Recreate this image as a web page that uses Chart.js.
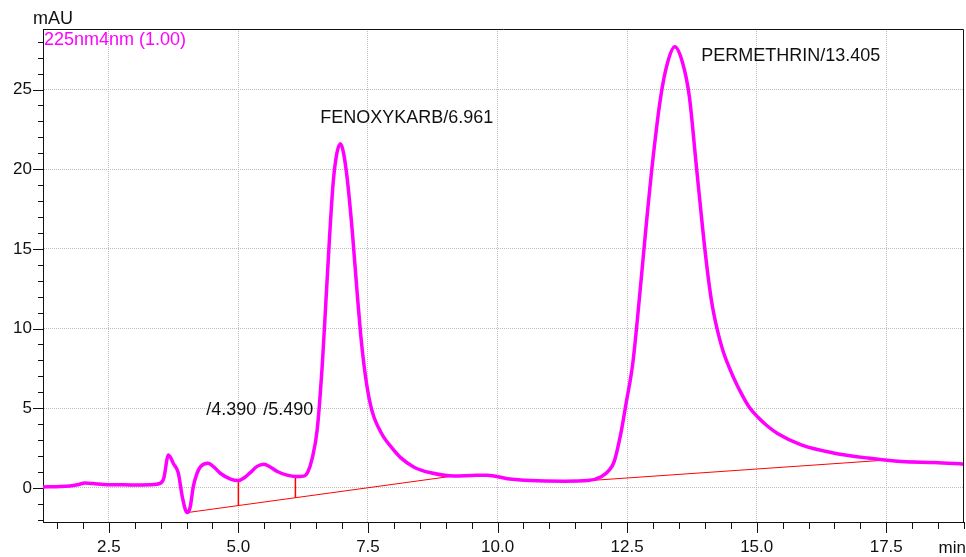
<!DOCTYPE html>
<html>
<head>
<meta charset="utf-8">
<script src="https://cdn.jsdelivr.net/npm/chart.js@4/dist/chart.umd.min.js"></script>
<style>
    body { margin: 0; background: #fff; }
    #wrap { width: 966px; height: 557px; position: relative; }
</style>
</head>
<body>
<div id="wrap"><canvas id="chromatogram"></canvas></div>
<script>
// retention time (min) and detector signal (mAU)
var retentionTime = [
    1.23, 1.50, 1.75, 1.90, 2.04, 2.20, 2.40, 2.70, 3.00, 3.30,
    3.50, 3.56, 3.65, 3.75, 3.84, 3.92, 4.01, 4.07, 4.13, 4.20,
    4.27, 4.41, 4.53, 4.65, 4.85, 5.00, 5.12, 5.23, 5.36, 5.49,
    5.62, 5.75, 5.94, 6.10, 6.26, 6.34, 6.42, 6.52, 6.62, 6.69,
    6.76, 6.83, 6.90, 6.97, 7.03, 7.10, 7.20, 7.29, 7.36, 7.42,
    7.48, 7.55, 7.62, 7.70, 7.80, 7.94, 8.13, 8.39, 8.71, 9.16,
    9.50, 9.80, 10.19, 10.64, 11.29, 11.74, 12.00, 12.15, 12.25, 12.38,
    12.48, 12.61, 12.74, 12.86, 12.99, 13.15, 13.28, 13.42, 13.57, 13.70,
    13.83, 13.96, 14.05, 14.13, 14.20, 14.28, 14.36, 14.44, 14.55, 14.70,
    14.85, 15.02, 15.20, 15.41, 15.86, 16.50, 17.15, 17.79, 18.43, 19.00
];
var signal = [
    0.06, 0.08, 0.12, 0.20, 0.30, 0.27, 0.22, 0.20, 0.18, 0.20,
    0.30, 0.60, 2.07, 1.50, 0.94, -0.60, -1.55, -1.20, 0.08, 0.90,
    1.34, 1.55, 1.30, 0.92, 0.55, 0.46, 0.65, 0.96, 1.35, 1.49,
    1.30, 1.03, 0.80, 0.71, 0.74, 1.00, 1.80, 3.64, 7.80, 11.8,
    15.8, 19.2, 21.0, 21.6, 21.0, 19.4, 16.0, 12.3, 9.6, 7.8,
    6.4, 5.2, 4.4, 3.8, 3.2, 2.6, 1.90, 1.30, 0.95, 0.75,
    0.78, 0.80, 0.58, 0.46, 0.42, 0.46, 0.70, 1.10, 1.65, 3.44,
    5.30, 7.83, 12.0, 16.2, 20.4, 24.58, 26.68, 27.68, 26.68, 24.58,
    20.4, 16.2, 13.6, 11.7, 10.5, 9.4, 8.5, 7.8, 6.95, 5.95,
    5.10, 4.45, 3.90, 3.40, 2.70, 2.18, 1.87, 1.65, 1.59, 1.49
];

// integration baselines
var baselineATime = [4.01, 9.16];
var baselineASignal = [-1.55, 0.75];
var baselineBTime = [11.60, 17.56];
var baselineBSignal = [0.42, 1.76];

// drop lines separating the small peaks
var dropTime = [5.00, 6.10];
var dropTop = [0.46, 0.71];
var dropBottom = [-1.11, -0.63];

// peak annotations
var peakLabels = ["/4.390", "/5.490", "FENOXYKARB/6.961", "PERMETHRIN/13.405"];
var peakLabelTime = [4.38, 5.48, 6.58, 13.93];
var peakLabelSignal = [4.9, 4.9, 23.2, 27.1];

var channelName = "225nm4nm (1.00)";
var xUnit = "min";
var yUnit = "mAU";

function points(xs, ys) {
    var out = [];
    for (var i = 0; i < xs.length; i++) out.push({ x: xs[i], y: ys[i] });
    return out;
}

var datasets = [
    {
        data: points(retentionTime, signal),
        borderColor: "#ff00ff",
        borderWidth: 3.5,
        pointRadius: 0,
        cubicInterpolationMode: "monotone",
    },
    {
        data: points(baselineATime, baselineASignal),
        borderColor: "#ff0000",
        borderWidth: 1,
        pointRadius: 0,
    },
    {
        data: points(baselineBTime, baselineBSignal),
        borderColor: "#ff0000",
        borderWidth: 1,
        pointRadius: 0,
    },
];
for (var d = 0; d < dropTime.length; d++) {
    datasets.push({
        data: points([dropTime[d], dropTime[d]], [dropTop[d], dropBottom[d]]),
        borderColor: "#ff0000",
        borderWidth: 1.5,
        pointRadius: 0,
    });
}

// minor ticks, frame, unit labels and peak names
var decorations = {
    id: "decorations",
    afterDraw: function (chart) {
        var ctx = chart.ctx;
        var area = chart.chartArea;
        var xs = chart.scales.x;
        var ys = chart.scales.y;
        ctx.save();

        ctx.strokeStyle = "#111";
        ctx.lineWidth = 1;
        ctx.beginPath();
        for (var v = Math.ceil(xs.min * 2) / 2; v <= xs.max; v += 0.5) {
            var major = Math.abs(v / 2.5 - Math.round(v / 2.5)) < 1e-6;
            var px = Math.round(xs.getPixelForValue(v)) + 0.5;
            ctx.moveTo(px, area.bottom + 1);
            ctx.lineTo(px, area.bottom + (major ? 11 : 7));
        }
        for (var w = Math.ceil(ys.min); w <= ys.max; w += 1) {
            var py = Math.round(ys.getPixelForValue(w)) + 0.5;
            ctx.moveTo(area.left - (w % 5 === 0 ? 10 : 5), py);
            ctx.lineTo(area.left, py);
        }
        ctx.stroke();

        // top and right edges of the plot box
        ctx.beginPath();
        ctx.moveTo(area.left, area.top + 0.5);
        ctx.lineTo(area.right - 0.5, area.top + 0.5);
        ctx.lineTo(area.right - 0.5, area.bottom);
        ctx.stroke();

        ctx.textBaseline = "middle";
        ctx.textAlign = "left";
        ctx.font = "18px 'Liberation Sans', Arial, sans-serif";
        ctx.fillStyle = "#111";
        ctx.fillText(yUnit, 33, 19);
        ctx.textAlign = "right";
        ctx.font = "17px 'Liberation Sans', Arial, sans-serif";
        ctx.fillText(xUnit, 966, 548);

        ctx.textAlign = "left";
        ctx.font = "18px 'Liberation Sans', Arial, sans-serif";
        ctx.fillStyle = "#ff00ff";
        ctx.fillText(channelName, area.left + 1, area.top + 11);

        ctx.fillStyle = "#111";
        for (var i = 0; i < peakLabels.length; i++) {
            ctx.fillText(peakLabels[i],
                xs.getPixelForValue(peakLabelTime[i]),
                ys.getPixelForValue(peakLabelSignal[i]));
        }
        ctx.restore();
    },
};

var tickFont = { family: "'Liberation Sans', Arial, sans-serif", size: 17 };

new Chart(document.getElementById("chromatogram").getContext("2d"), {
    type: "line",
    data: { datasets: datasets },
    options: {
        responsive: true,
        maintainAspectRatio: false,
        animation: false,
        layout: { padding: { top: 29, right: 2, left: 0, bottom: 0 } },
        plugins: {
            legend: { display: false },
            tooltip: { enabled: false },
        },
        scales: {
            x: {
                type: "linear",
                min: 1.23,
                max: 19.0,
                afterFit: function (scale) { scale.height = 35; },
                grid: { color: "#bdbdbd", drawTicks: false },
                border: { color: "#111", width: 1, dash: [1, 1] },
                ticks: {
                    stepSize: 2.5,
                    includeBounds: false,
                    padding: 15,
                    color: "#111",
                    font: tickFont,
                    maxRotation: 0,
                    autoSkip: false,
                    callback: function (value) { return value.toFixed(1); },
                },
            },
            y: {
                min: -2.14,
                max: 28.8,
                afterFit: function (scale) { scale.width = 43; },
                grid: { color: "#bdbdbd", drawTicks: false },
                border: { color: "#111", width: 1, dash: [1, 1] },
                ticks: {
                    stepSize: 5,
                    includeBounds: false,
                    padding: 11,
                    color: "#111",
                    font: tickFont,
                },
            },
        },
    },
    plugins: [decorations],
});
</script>
</body>
</html>
